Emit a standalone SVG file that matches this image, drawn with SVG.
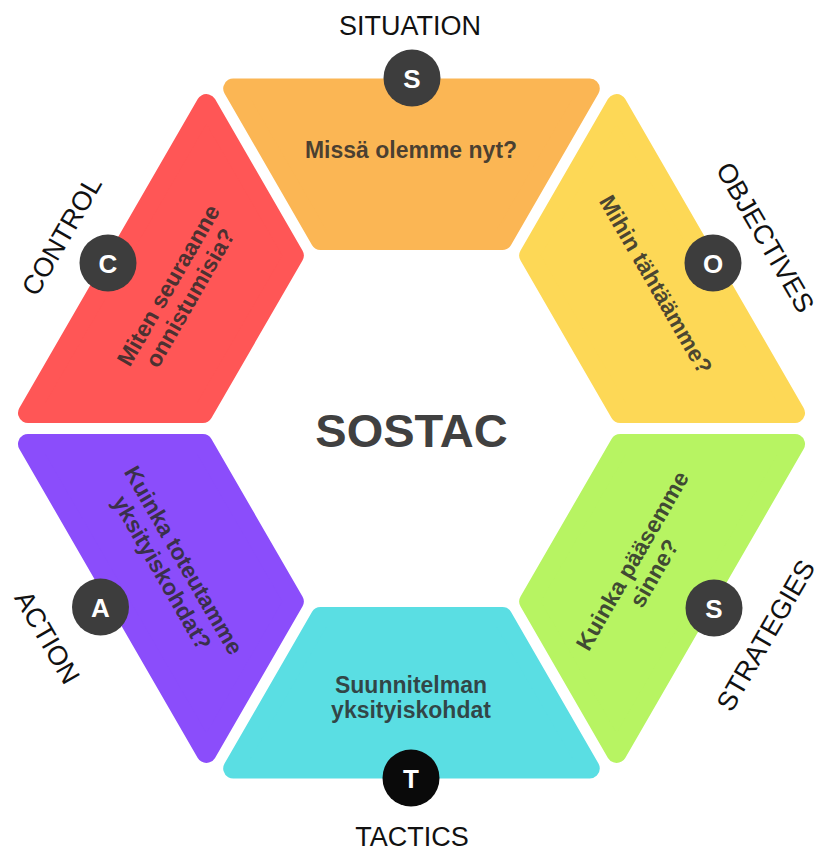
<svg xmlns="http://www.w3.org/2000/svg" width="821" height="853" viewBox="0 0 821 853">
<style>
.seg{stroke-width:20;stroke-linejoin:round}
.q{font-family:"Liberation Sans",Arial,sans-serif;font-weight:bold;font-size:23px;fill:#2b2b2b;fill-opacity:.85;text-anchor:middle}
.lbl{font-family:"Liberation Sans",Arial,sans-serif;font-size:27px;fill:#111;text-anchor:middle}
.badge{fill:#3d3d3d}
.bt{font-family:"Liberation Sans",Arial,sans-serif;font-weight:bold;font-size:26px;fill:#fff;text-anchor:middle}
.title{font-family:"Liberation Sans",Arial,sans-serif;font-weight:bold;font-size:47px;fill:#404040;text-anchor:middle}
</style>
<rect width="821" height="853" fill="#fff"/>

<g id="situation">
<polygon class="seg" points="233.2,88.5 589.8,88.5 502.4,240 320.6,240" fill="#FBB654" stroke="#FBB654"/>
<text class="q" x="411" y="158">Missä olemme nyt?</text>
<circle class="badge" cx="412" cy="78" r="28.5"/>
<text class="bt" x="412" y="87.5">S</text>
<text class="lbl" x="410" y="35" font-size="28">SITUATION</text>
</g>

<g id="control">
<polygon class="seg" points="206.4,104.1 28,413 202.8,413 293.8,255.5" fill="#FF5656" stroke="#FF5656"/>
<g transform="translate(180,292) rotate(-60)">
<text class="q" x="0" y="-5.5">Miten seuraanne</text>
<text class="q" x="0" y="19.5">onnistumisia?</text>
</g>
<circle class="badge" cx="108" cy="263" r="28.5"/>
<text class="bt" x="108" y="272.5">C</text>
<text class="lbl" transform="translate(61,235.5) rotate(-60)" x="0" y="10">CONTROL</text>
</g>

<g id="objectives">
<polygon class="seg" points="616.6,104.1 795,413 620.2,413 529.2,255.5" fill="#FDD856" stroke="#FDD856"/>
<text class="q" transform="translate(655,285) rotate(60)" x="0" y="7">Mihin tähtäämme?</text>
<circle class="badge" cx="713" cy="263" r="28.5"/>
<text class="bt" x="713" y="272.5">O</text>
<text class="lbl" transform="translate(766,237) rotate(60)" x="0" y="10" font-size="26">OBJECTIVES</text>
</g>

<g id="action">
<polygon class="seg" points="206.4,752.9 28,444 202.8,444 293.8,601.5" fill="#8B4DFB" stroke="#8B4DFB"/>
<g transform="translate(172,567) rotate(60)">
<text class="q" x="0" y="-5.5">Kuinka toteutamme</text>
<text class="q" x="0" y="19.5">yksityiskohdat?</text>
</g>
<circle class="badge" cx="100.5" cy="607" r="28.5"/>
<text class="bt" x="100.5" y="616.5">A</text>
<text class="lbl" transform="translate(48,637) rotate(60)" x="0" y="10">ACTION</text>
</g>

<g id="strategies">
<polygon class="seg" points="616.6,752.9 795,444 620.2,444 529.2,601.5" fill="#B7F462" stroke="#B7F462"/>
<g transform="translate(644,567.5) rotate(-60)">
<text class="q" x="0" y="-5.5">Kuinka pääsemme</text>
<text class="q" x="0" y="19.5">sinne?</text>
</g>
<circle class="badge" cx="714" cy="608" r="28.5"/>
<text class="bt" x="714" y="617.5">S</text>
<text class="lbl" transform="translate(765,635) rotate(-60)" x="0" y="10">STRATEGIES</text>
</g>

<g id="tactics">
<polygon class="seg" points="233.2,768.5 589.8,768.5 502.4,617 320.6,617" fill="#5ADEE3" stroke="#5ADEE3"/>
<text class="q" x="411" y="693">Suunnitelman</text>
<text class="q" x="411" y="718">yksityiskohdat</text>
<circle cx="411" cy="778" r="28.5" fill="#0a0a0a"/>
<text class="bt" x="411" y="787.5">T</text>
<text class="lbl" x="412" y="846" font-size="28">TACTICS</text>
</g>

<g id="center">
<text class="title" x="411.5" y="447">SOSTAC</text>
</g>
</svg>
